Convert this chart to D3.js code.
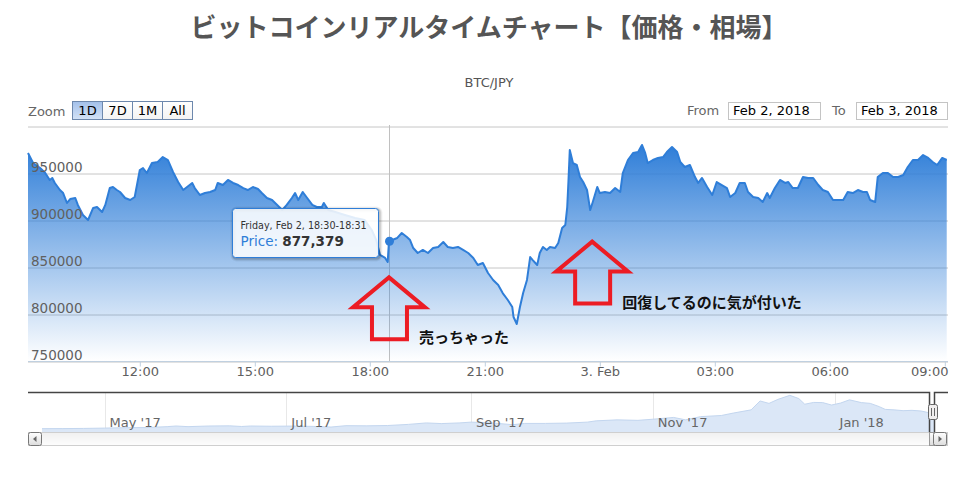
<!DOCTYPE html>
<html>
<head>
<meta charset="utf-8">
<script src="https://cdn.jsdelivr.net/npm/d3@7"></script>
<style>
  html, body { margin: 0; padding: 0; background: #fff; }
  svg { display: block; font-family: "DejaVu Sans", Verdana, sans-serif; }
</style>
</head>
<body>
<svg id="chart" width="978" height="477"></svg>
<script>
// chart texts
const TITLE = "ビットコインリアルタイムチャート【価格・相場】";
const SUBTITLE = "BTC/JPY";
const ZOOM_BUTTONS = ["1D", "7D", "1M", "All"];
const RANGE_FROM = "Feb 2, 2018";
const RANGE_TO = "Feb 3, 2018";
const Y_TICKS = [750000, 800000, 850000, 900000, 950000, 1000000];

// 1 day of BTC/JPY, starts Feb 2 2018 09:05 (UTC used as local clock)
const START = Date.UTC(2018, 1, 2, 9, 5);
const SPAN_MIN = 1440;
// [minutes after START, price]
const PRICES = [
  [0,971300],[8,960600],[19,955300],[27,950000],[34,942600],[38,944700],[42,939400],[50,931900],
  [55,928700],[61,918100],[66,922300],[74,923400],[78,916000],[86,905300],[94,900000],[102,912800],
  [108,913800],[116,908500],[121,916000],[128,934000],[133,935100],[139,931900],[144,929800],[152,923400],
  [160,921300],[167,924500],[175,953200],[180,955300],[186,950000],[194,960600],[203,961700],[211,967000],
  [219,963800],[227,951100],[235,940400],[243,931900],[249,935100],[257,939400],[261,934000],[269,926600],
  [277,928700],[285,929800],[293,931900],[297,939400],[305,937200],[313,942600],[321,939400],[329,937200],
  [337,934000],[344,931900],[352,935100],[360,933000],[366,928700],[374,923400],[382,921300],[390,916000],
  [398,910600],[405,916000],[413,923400],[418,928700],[423,921300],[430,929800],[437,923400],[445,916000],
  [452,913800],[460,913800],[463,918100],[470,910600],[481,908500],[496,905300],[512,902100],[527,900000],
  [538,889400],[545,878700],[551,862800],[559,859600],[563,855300],[565,877379],[578,880900],[585,886200],
  [593,881900],[598,878700],[603,870200],[610,864900],[618,868100],[626,864900],[634,870200],[642,871300],
  [650,876600],[657,871300],[665,870200],[673,871300],[681,868100],[689,864900],[697,859600],[704,852100],
  [712,854300],[720,843600],[728,836200],[736,830900],[743,822300],[751,814900],[758,807400],[760,796800],
  [765,789400],[770,807400],[775,822300],[781,836200],[786,860600],[790,857400],[797,852100],[801,864900],
  [806,871300],[812,868100],[817,871300],[825,870200],[830,875500],[836,891500],[841,894700],[844,913800],
  [846,942600],[848,974500],[853,960600],[859,958500],[864,945700],[869,940400],[875,931900],[880,910600],
  [884,919100],[891,935100],[895,928700],[903,929800],[911,928700],[919,934000],[927,929800],[931,950000],
  [939,963800],[947,971300],[955,972300],[961,979800],[966,971300],[970,960600],[978,963800],[986,966000],
  [994,967000],[1000,972300],[1008,977700],[1016,972300],[1021,961700],[1028,956400],[1036,958500],[1044,945700],
  [1049,939400],[1055,944700],[1063,935100],[1071,926600],[1078,940400],[1086,937200],[1094,934000],[1099,924500],
  [1107,928700],[1114,939400],[1122,939400],[1127,929800],[1135,924500],[1143,923400],[1150,919100],[1157,928700],
  [1161,923400],[1169,934000],[1177,942600],[1185,939400],[1190,940400],[1197,934000],[1205,934000],[1213,945700],
  [1221,944700],[1229,944700],[1237,937200],[1244,931900],[1252,929800],[1260,921300],[1268,921300],[1276,921300],
  [1283,929800],[1291,928700],[1299,931900],[1307,929800],[1313,929800],[1318,921300],[1326,919100],[1330,945700],
  [1338,950000],[1346,950000],[1354,945700],[1362,945700],[1370,947900],[1377,956400],[1385,963800],[1393,963800],
  [1401,969100],[1409,966000],[1416,961700],[1423,958500],[1431,966000],[1438,963800]
];

// hovered point (tooltip)
const HOVER_MIN = 565;
const HOVER_PRICE = 877379;

// red arrows drawn over the chart: tip position + caption
const NOTES = [
  { min: 565, price: 839000, text: "売っちゃった" },
  { min: 883, price: 877000, text: "回復してるのに気が付いた" }
];

// navigator series (whole history)
const NAV_DATA = [
  ["2017-04-10",135000],["2017-04-17",140000],["2017-04-24",150000],["2017-05-01",170000],
  ["2017-05-08",195000],["2017-05-15",205000],["2017-05-22",260000],["2017-05-25",300000],
  ["2017-05-29",260000],["2017-06-05",300000],["2017-06-12",310000],["2017-06-16",270000],
  ["2017-06-19",300000],["2017-06-26",285000],["2017-07-03",295000],["2017-07-10",275000],
  ["2017-07-16",235000],["2017-07-21",320000],["2017-07-28",310000],["2017-08-04",330000],
  ["2017-08-11",400000],["2017-08-17",490000],["2017-08-22",450000],["2017-08-28",490000],
  ["2017-09-01",540000],["2017-09-08",490000],["2017-09-15",380000],["2017-09-19",460000],
  ["2017-09-26",460000],["2017-10-03",480000],["2017-10-10",540000],["2017-10-13",620000],
  ["2017-10-20",680000],["2017-10-27",650000],["2017-11-01",720000],["2017-11-08",830000],
  ["2017-11-12",680000],["2017-11-17",880000],["2017-11-24",950000],["2017-11-28",1100000],
  ["2017-12-04",1300000],["2017-12-07",1850000],["2017-12-10",1700000],["2017-12-13",1950000],
  ["2017-12-17",2200000],["2017-12-20",2000000],["2017-12-22",1650000],["2017-12-25",1760000],
  ["2017-12-28",1750000],["2017-12-31",1600000],["2018-01-03",1720000],["2018-01-06",1920000],
  ["2018-01-10",1750000],["2018-01-13",1700000],["2018-01-16",1500000],["2018-01-18",1330000],
  ["2018-01-21",1300000],["2018-01-24",1250000],["2018-01-27",1270000],["2018-01-30",1230000],
  ["2018-02-01",1150000],["2018-02-03T09:05",1050000]
];

const BLUE = "#2f7ed8";
const CJK = '"Noto Sans CJK JP", sans-serif';

const svg = d3.select("#chart");
const defs = svg.append("defs");

function vGrad(id, stops) {
  const g = defs.append("linearGradient").attr("id", id)
    .attr("x1", 0).attr("y1", 0).attr("x2", 0).attr("y2", 1);
  stops.forEach(s => g.append("stop").attr("offset", s[0])
    .attr("stop-color", s[1]).attr("stop-opacity", s[2] == null ? 1 : s[2]));
}
vGrad("areaFill", [[0, BLUE, 1], [1, BLUE, 0]]);
vGrad("btnSel", [[0, "#a3c0ea"], [1, "#d3e2f6"]]);
vGrad("btnOff", [[0, "#ffffff"], [1, "#f3f3f3"]]);
vGrad("track", [[0, "#f0f0f0"], [1, "#fdfdfd"]]);
vGrad("sbBtn", [[0, "#ffffff"], [1, "#dcdcdc"]]);

// ---- title block
svg.append("text").attr("x", 489).attr("y", 37).attr("text-anchor", "middle")
  .style("font-family", CJK).style("font-weight", "700").style("font-size", "26px")
  .style("fill", "#555").text(TITLE);

svg.append("text").attr("x", 489).attr("y", 87).attr("text-anchor", "middle")
  .style("font-size", "13px").style("fill", "#555").text(SUBTITLE);

// ---- range selector
svg.append("text").attr("x", 28).attr("y", 116)
  .style("font-size", "13px").style("fill", "#666").text("Zoom");

const btn = svg.append("g").selectAll("g").data(ZOOM_BUTTONS).enter().append("g")
  .attr("transform", (d, i) => `translate(${72.5 + i * 30},101.5)`);
btn.append("rect").attr("width", 30).attr("height", 18)
  .attr("fill", (d, i) => i === 0 ? "url(#btnSel)" : "url(#btnOff)")
  .attr("stroke", "#6d88ad");
btn.append("text").attr("x", 15).attr("y", 13.5).attr("text-anchor", "middle")
  .style("font-size", "13px").style("fill", "#000").text(d => d);

svg.append("text").attr("x", 687).attr("y", 115)
  .style("font-size", "13px").style("fill", "#666").text("From");
svg.append("rect").attr("x", 728.5).attr("y", 102.5).attr("width", 92).attr("height", 17)
  .attr("fill", "#fff").attr("stroke", "#c4c4c4");
svg.append("text").attr("x", 733).attr("y", 115)
  .style("font-size", "13px").style("fill", "#000").text(RANGE_FROM);
svg.append("text").attr("x", 832).attr("y", 115)
  .style("font-size", "13px").style("fill", "#666").text("To");
svg.append("rect").attr("x", 856.5).attr("y", 102.5).attr("width", 91).attr("height", 17)
  .attr("fill", "#fff").attr("stroke", "#c4c4c4");
svg.append("text").attr("x", 861).attr("y", 115)
  .style("font-size", "13px").style("fill", "#000").text(RANGE_TO);

// ---- main plot
const PL = 28, PR = 948, PT = 126, PB = 361;
const x = d3.scaleUtc().domain([START, START + SPAN_MIN * 60000]).range([PL, PR]);
const y = d3.scaleLinear().domain([750000, 1000000]).range([PB, PT]);
const pts = PRICES.map(p => ({ t: START + p[0] * 60000, v: p[1] }));

// grid
svg.append("g").attr("transform", `translate(${PL},0.5)`)
  .call(d3.axisLeft(y).tickValues(Y_TICKS).tickSize(-(PR - PL)).tickFormat(""))
  .call(g => { g.select(".domain").remove(); g.selectAll("line").attr("stroke", "#c6c6c6"); });

// crosshair at hovered time
const hx = Math.round(x(START + HOVER_MIN * 60000)) + 0.5;
svg.append("line").attr("x1", hx).attr("x2", hx).attr("y1", PT - 1).attr("y2", PB)
  .attr("stroke", "#c0c0c0");

// area + line
const area = d3.area().x(d => x(d.t)).y0(PB).y1(d => y(d.v));
const line = d3.line().x(d => x(d.t)).y(d => y(d.v));
svg.append("path").datum(pts).attr("d", area).attr("fill", "url(#areaFill)");
svg.append("path").datum(pts).attr("d", line).attr("fill", "none")
  .attr("stroke", BLUE).attr("stroke-width", 2).attr("stroke-linejoin", "round");

// y labels inside plot
svg.append("g").attr("transform", `translate(${PL},0)`)
  .call(d3.axisRight(y).tickValues(Y_TICKS.slice(0, -1)).tickSize(0).tickPadding(3).tickFormat(d3.format("d")))
  .call(g => {
    g.select(".domain").remove();
    g.selectAll("text").attr("dy", "-2px").style("font-size", "13.5px").style("fill", "#606060")
      .style("font-family", '"DejaVu Sans", sans-serif');
  });

// x axis
const fmtTick = d => d.getUTCHours() === 0 ? d3.utcFormat("%-d. %b")(d) : d3.utcFormat("%H:%M")(d);
svg.append("g").attr("transform", `translate(0,${PB + 0.5})`)
  .call(d3.axisBottom(x).ticks(d3.utcHour.every(3)).tickFormat(fmtTick).tickSize(5).tickPadding(0))
  .call(g => {
    g.select(".domain").attr("stroke", "#c0d0e0").attr("d", `M${PL},0H${PR}`);
    g.selectAll("line").attr("stroke", "#c0d0e0");
    g.selectAll("text").style("font-size", "13px").style("fill", "#606060")
      .style("font-family", '"DejaVu Sans", sans-serif');
    // keep the last label inside the plot, like the original
    g.selectAll(".tick").each(function (d) {
      const t = d3.select(this).select("text");
      const w = t.node().getComputedTextLength();
      if (x(d) + w / 2 > PR) t.attr("text-anchor", "end").attr("x", PR - x(d));
    });
  });

// hover marker
const hy = y(HOVER_PRICE);
svg.append("circle").attr("cx", hx).attr("cy", hy).attr("r", 4.5).attr("fill", BLUE);

// red arrows + captions
NOTES.forEach(n => {
  const tx = x(START + n.min * 60000), ty = y(n.price);
  const shape = [[0,0],[36,30],[18,30],[18,62],[-17,62],[-17,30],[-36,30]];
  svg.append("path")
    .attr("d", "M" + shape.map(p => (tx + p[0]) + "," + (ty + p[1])).join("L") + "Z")
    .attr("fill", "none").attr("stroke", "#ec1c24").attr("stroke-width", 4)
    .attr("stroke-linejoin", "miter");
  svg.append("text").attr("x", tx + 30).attr("y", ty + 66)
    .style("font-family", CJK).style("font-weight", "700").style("font-size", "15px")
    .style("fill", "#111").text(n.text);
});

// tooltip
const tip = svg.append("g").attr("transform", `translate(${Math.round(hx) - 157.5},${Math.round(hy) - 32.5})`);
[[3, 0.05], [2, 0.08], [1, 0.12]].forEach(s =>
  tip.append("rect").attr("x", 1).attr("y", 1).attr("width", 146).attr("height", 49).attr("rx", 3)
    .attr("fill", "none").attr("stroke", "#000").attr("stroke-opacity", s[1]).attr("stroke-width", s[0] * 2));
tip.append("rect").attr("width", 146).attr("height", 49).attr("rx", 3)
  .attr("fill", "rgba(255,255,255,0.86)").attr("stroke", BLUE);
const ht = START + HOVER_MIN * 60000;
tip.append("text").attr("x", 8).attr("y", 20).style("font-size", "9.6px").style("fill", "#333")
  .text(d3.utcFormat("%A, %b %-d, %H:%M")(new Date(ht)) + "-" + d3.utcFormat("%H:%M")(new Date(ht + 60000)));
const pt = tip.append("text").attr("x", 8).attr("y", 37).style("font-size", "13.5px");
pt.append("tspan").style("fill", BLUE).text("Price: ");
pt.append("tspan").style("fill", "#333").style("font-weight", "700").text(d3.format(",")(HOVER_PRICE));

// ---- navigator
const NT = 392, NB = 432, SB = 14;
const navPts = NAV_DATA.map(d => ({ t: new Date(d[0] + (d[0].length > 10 ? "Z" : "T00:00Z")), v: d[1] }));
const navX = d3.scaleUtc().domain(d3.extent(navPts, d => d.t)).range([PL + SB, PR - SB]);
const [vmin, vmax] = d3.extent(navPts, d => d.v);
const pad = (vmax - vmin) * 0.1;
const navY = d3.scaleLinear().domain([vmin - pad, vmax + pad]).range([NB, NT]);

const navTicks = navX.ticks(d3.utcMonth.every(2));
svg.append("g").selectAll("line").data(navTicks).enter().append("line")
  .attr("x1", d => Math.round(navX(d)) + 0.5).attr("x2", d => Math.round(navX(d)) + 0.5)
  .attr("y1", NT).attr("y2", NB).attr("stroke", "#e8e8e8");

svg.append("path").datum(navPts)
  .attr("d", d3.area().x(d => navX(d.t)).y0(NB).y1(d => navY(d.v)))
  .attr("fill", "#dbe7f7");
svg.append("path").datum(navPts)
  .attr("d", d3.line().x(d => navX(d.t)).y(d => navY(d.v)))
  .attr("fill", "none").attr("stroke", "#c3d6ef").attr("stroke-width", 1);

svg.append("g").selectAll("text").data(navTicks).enter().append("text")
  .attr("x", d => navX(d) + 5).attr("y", 427)
  .style("font-size", "13px").style("fill", "#666").text(d3.utcFormat("%b '%y"));

// selected range outline
const zMin = navX(new Date(START)), zMax = navX(new Date(START + SPAN_MIN * 60000));
svg.append("path")
  .attr("d", `M${PL},${NT + 0.5}H${zMin - 1.5}V${NB}M${zMax + 0.5},${NB}V${NT + 0.5}H${PR}`)
  .attr("fill", "none").attr("stroke", "#444").attr("stroke-width", 1.5);

// scrollbar
svg.append("rect").attr("x", PL + 0.5).attr("y", NB + 0.5).attr("width", PR - PL - 1).attr("height", SB - 1)
  .attr("fill", "url(#track)").attr("stroke", "#cfcfcf");
function sbButton(x0, dir) {
  svg.append("rect").attr("x", x0 + 0.5).attr("y", NB + 0.5).attr("width", SB - 1).attr("height", SB - 1)
    .attr("rx", 2).attr("fill", "url(#sbBtn)").attr("stroke", "#777");
  const cx = x0 + SB / 2, cy = NB + SB / 2;
  svg.append("path").attr("d", `M${cx + 2 * dir},${cy}L${cx - 1.5 * dir},${cy - 3}L${cx - 1.5 * dir},${cy + 3}Z`)
    .attr("fill", "#666");
}
sbButton(PL, -1);
svg.append("rect").attr("x", zMin - 1.5).attr("y", NB + 0.5).attr("width", zMax - zMin + 3).attr("height", SB - 1)
  .attr("fill", "url(#sbBtn)").attr("stroke", "#999");
sbButton(PR - SB - 1, 1);

// handle
const hcx = (zMin + zMax) / 2;
svg.append("rect").attr("x", Math.round(hcx) - 4.5).attr("y", 404.5).attr("width", 9).attr("height", 15)
  .attr("rx", 2).attr("fill", "#f0eeee").attr("stroke", "#666");
[-1.5, 1.5].forEach(o => svg.append("line")
  .attr("x1", Math.round(hcx) + o).attr("x2", Math.round(hcx) + o).attr("y1", 408).attr("y2", 416)
  .attr("stroke", "#666"));
</script>
</body>
</html>
